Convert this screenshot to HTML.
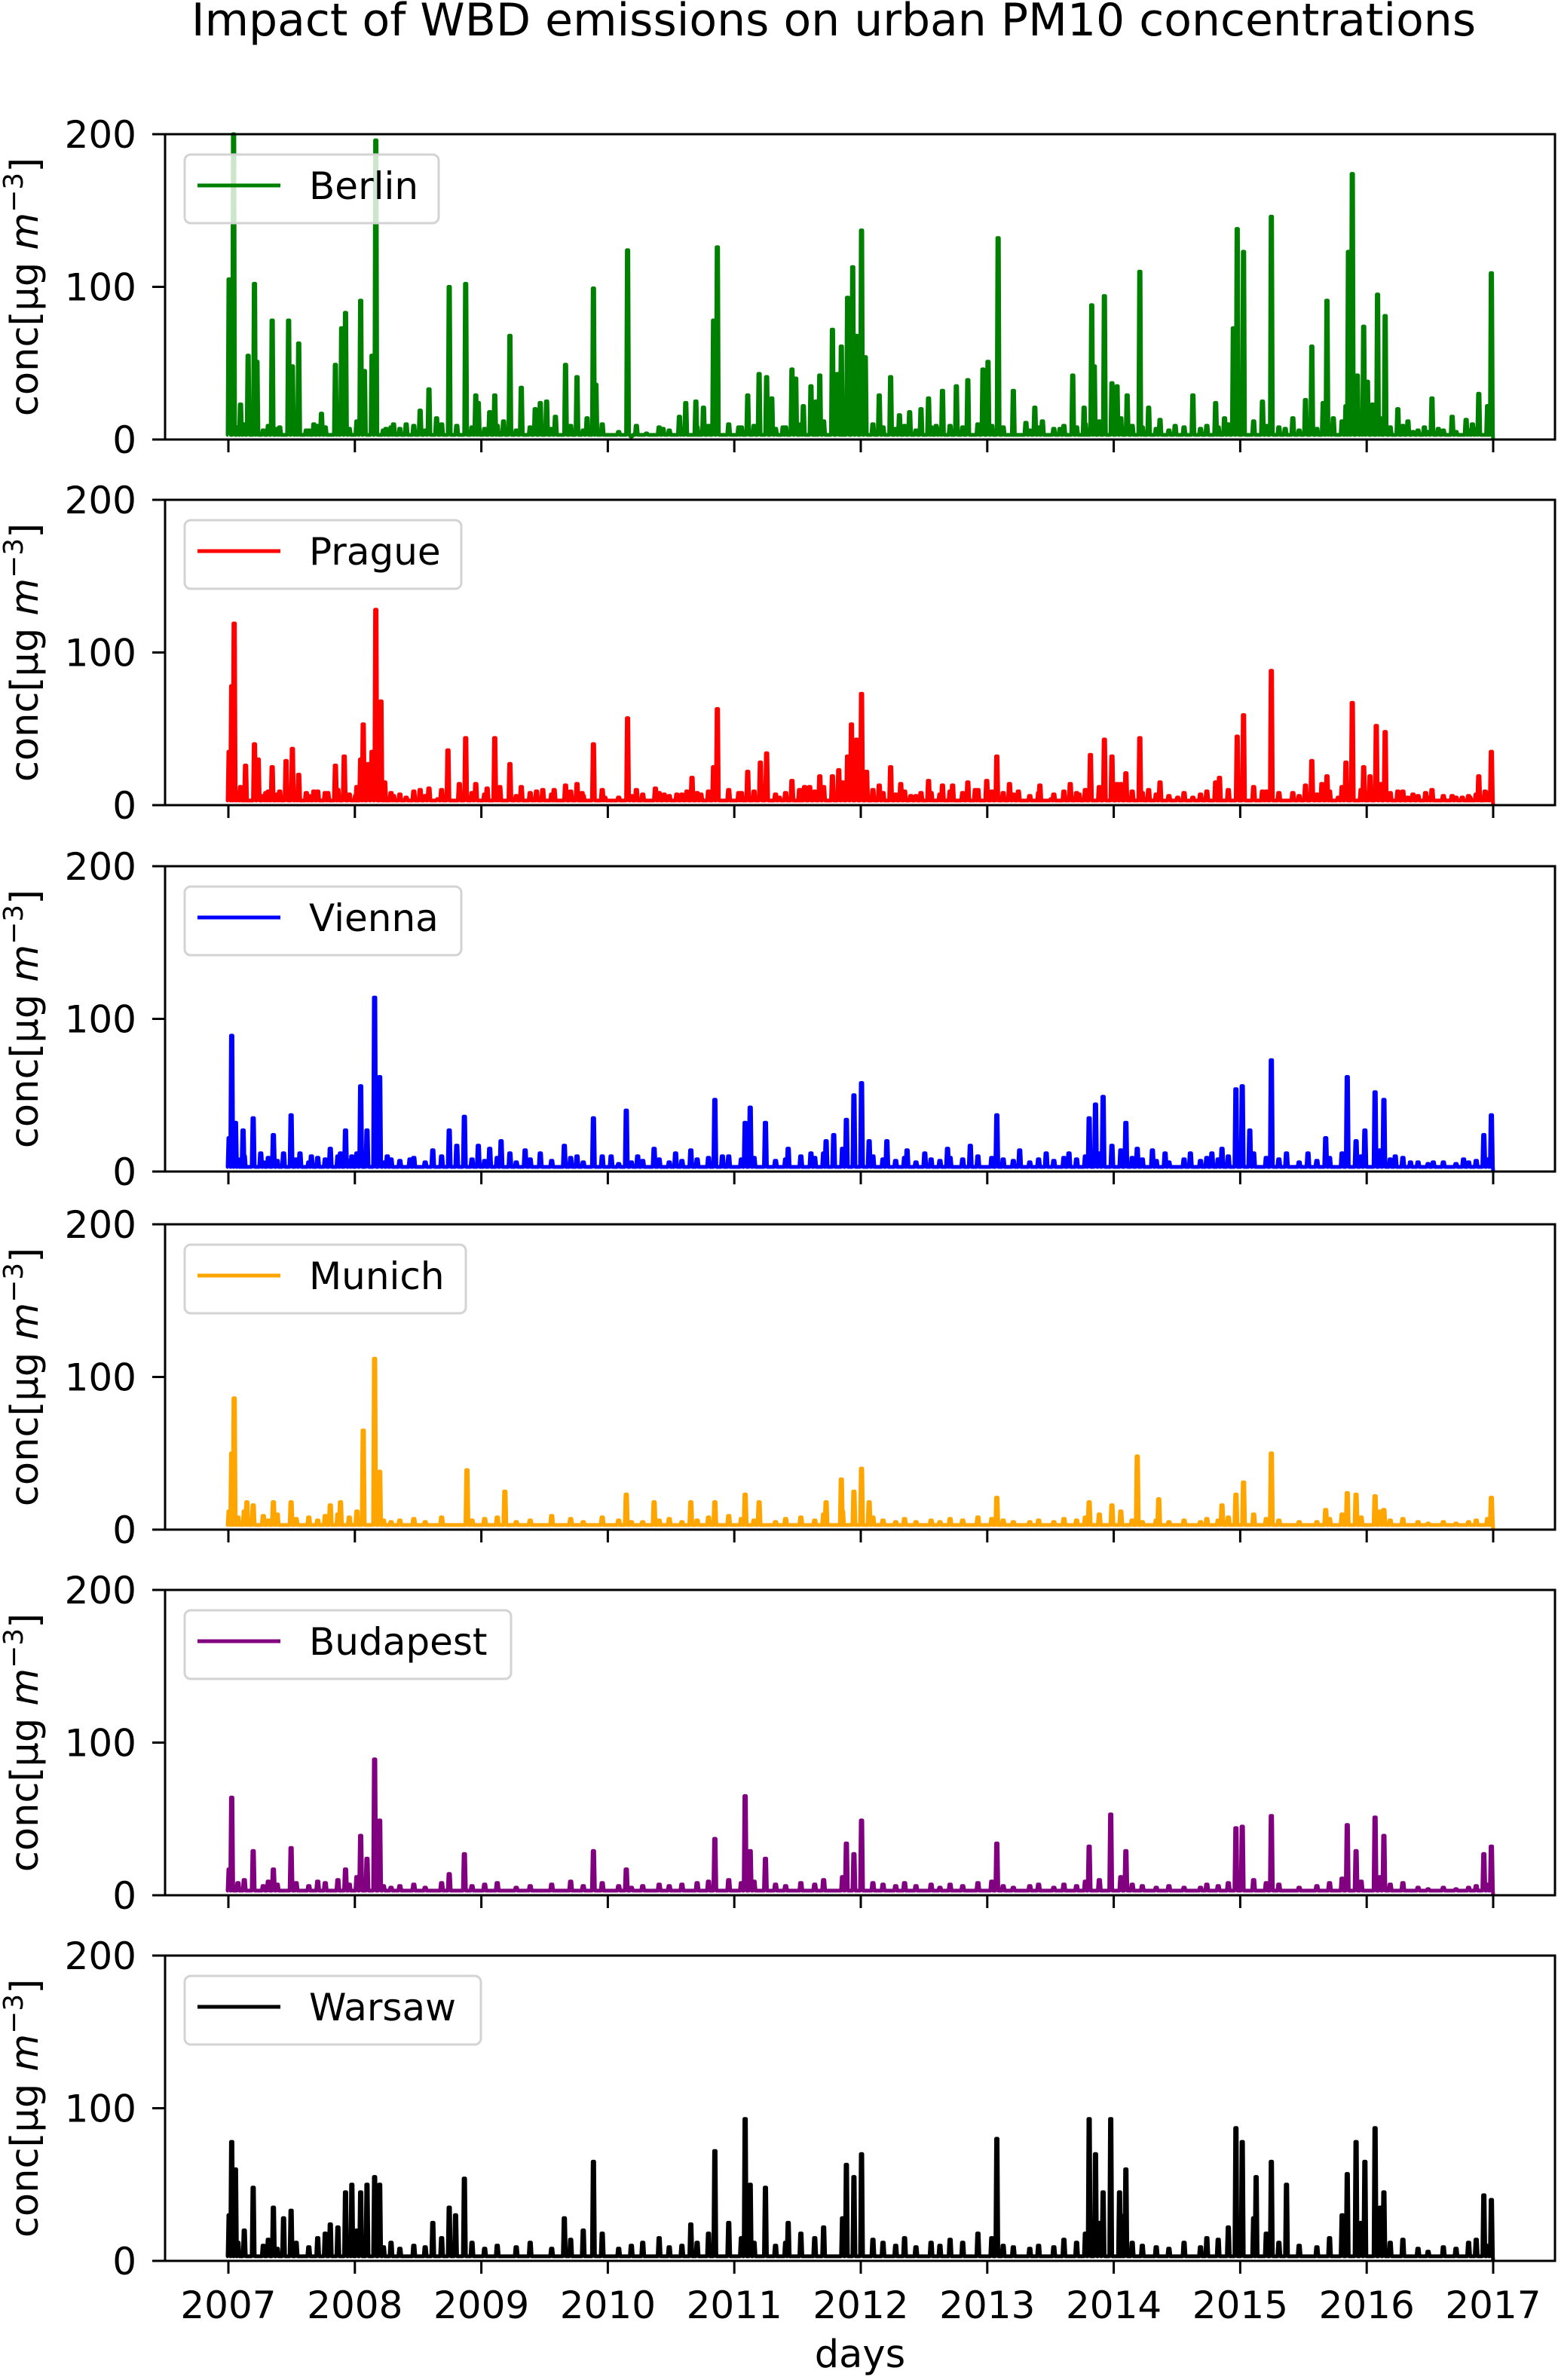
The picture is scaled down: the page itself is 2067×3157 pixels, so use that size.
<!DOCTYPE html>
<html><head><meta charset="utf-8"><style>
html,body{margin:0;padding:0;background:#fff}
svg{display:block}
text{font-family:"DejaVu Sans","Liberation Sans",sans-serif;fill:#000}
</style></head><body>
<svg id="chart" width="2067" height="3157" viewBox="0 0 2067 3157" xmlns="http://www.w3.org/2000/svg">
<text x="1106" y="47" font-size="60" text-anchor="middle">Impact of WBD emissions on urban PM10 concentrations</text>
<g id="panels"></g>
<text x="1141" y="3140" font-size="51" text-anchor="middle">days</text>
</svg>
<script>
// data (t = years since 2007-01-01, v = µg m-3)
const yearTicks = [2007,2008,2009,2010,2011,2012,2013,2014,2015,2016,2017];
const yTicks = [0,100,200];
const cities = ["Berlin","Prague","Vienna","Munich","Budapest","Warsaw"];
const colors = ["green","red","blue","orange","purple","black"];
const berlinT = [0,0.035,0.09,0.15,0.2,0.22,0.34,0.4,0.47,0.5,0.55,0.61,0.67,0.73,0.84,0.89,0.92,1.04,1.07,1.13,1.16,1.24,1.3,1.4,1.51,1.58,1.64,1.74,1.8,1.87,1.95,1.97,2.06,2.1,2.17,2.22,2.31,2.42,2.46,2.51,2.58,2.66,2.75,2.83,2.88,2.9,3.15,3.22,3.3,3.43,3.56,3.61,3.69,3.75,3.83,3.86,4.03,4.1,4.19,4.25,4.29,4.38,4.45,4.48,4.54,4.6,4.64,4.67,4.77,4.81,4.84,4.89,4.93,4.96,5,5.03,5.14,5.23,5.3,5.38,5.47,5.53,5.59,5.64,5.75,5.84,5.96,6,6.08,6.2,6.3,6.37,6.43,6.57,6.67,6.76,6.82,6.84,6.92,6.98,7.02,7.1,7.2,7.27,7.36,7.48,7.62,7.8,7.87,7.94,7.97,8.02,8.17,8.24,8.35,8.41,8.51,8.56,8.65,8.68,8.73,8.83,8.85,8.88,8.92,8.97,9,9.04,9.08,9.14,9.24,9.32,9.36,9.45,9.51,9.56,9.67,9.78,9.83,9.88,9.95,9.98];
const berlinV = [105,200,23,55,102,51,78,8,78,48,63,6,10,17,49,73,83,91,45,55,196,7,10,10,19,33,14,100,9,102,29,24,18,29,12,68,34,20,24,25,15,49,41,14,99,36,124,9,4,7,15,24,25,21,78,126,8,29,43,41,27,8,46,40,22,35,25,42,72,43,61,93,113,68,137,54,29,41,16,18,20,27,9,32,35,39,46,51,132,32,11,21,12,7,42,21,88,48,94,37,35,29,110,21,13,9,29,24,14,73,138,123,25,146,7,14,26,61,24,91,14,22,123,174,42,74,38,23,95,81,20,12,5,8,27,7,15,13,10,30,22,109];
const pragueT = [0,0.02,0.04,0.09,0.13,0.2,0.23,0.29,0.34,0.4,0.45,0.5,0.55,0.61,0.67,0.78,0.84,0.91,1,1.04,1.06,1.1,1.13,1.16,1.2,1.23,1.3,1.4,1.51,1.58,1.65,1.73,1.82,1.87,1.95,2.04,2.1,2.14,2.22,2.31,2.43,2.48,2.57,2.66,2.75,2.79,2.88,2.97,3.15,3.22,3.37,3.44,3.54,3.62,3.66,3.73,3.83,3.86,4.03,4.1,4.2,4.25,4.35,4.45,4.51,4.55,4.59,4.67,4.77,4.82,4.89,4.92,4.96,5,5.04,5.14,5.23,5.31,5.39,5.47,5.53,5.64,5.72,5.84,5.9,5.99,6.07,6.17,6.24,6.41,6.5,6.65,6.72,6.81,6.92,6.98,7.02,7.09,7.2,7.27,7.36,7.5,7.62,7.8,7.83,7.97,8.02,8.17,8.24,8.41,8.51,8.56,8.64,8.68,8.77,8.83,8.88,8.97,9.02,9.07,9.14,9.24,9.32,9.36,9.46,9.51,9.58,9.67,9.75,9.81,9.88,9.93,9.98];
const pragueV = [35,78,119,12,26,40,30,8,25,9,29,37,20,8,9,8,26,32,6,30,53,27,35,128,68,15,6,5,10,11,4,36,14,44,14,11,44,12,27,12,9,10,10,13,14,8,40,5,57,10,11,7,7,9,18,7,25,63,8,22,28,34,5,16,10,12,12,19,19,23,32,53,43,73,22,13,25,14,6,8,16,13,13,15,10,16,32,14,9,13,4,14,7,33,43,32,14,21,44,10,15,5,5,15,18,45,59,9,88,8,13,29,14,19,5,28,67,25,19,52,48,9,5,7,8,10,3,6,5,5,19,9,35];
const viennaT = [0,0.02,0.05,0.11,0.19,0.25,0.35,0.43,0.49,0.56,0.65,0.8,0.88,0.92,0.97,1.04,1.09,1.15,1.19,1.25,1.43,1.61,1.74,1.8,1.86,1.97,2.06,2.15,2.22,2.34,2.46,2.65,2.75,2.88,3.02,3.14,3.23,3.36,3.53,3.65,3.84,3.9,4.08,4.12,4.24,4.42,4.6,4.72,4.78,4.88,4.94,5,5.06,5.2,5.36,5.5,5.68,5.86,6.07,6.25,6.46,6.64,6.8,6.85,6.91,6.98,7.09,7.18,7.3,7.4,7.6,7.77,7.85,7.96,8.01,8.07,8.24,8.36,8.53,8.67,8.84,8.91,8.98,9.06,9.13,9.22,9.34,9.52,9.76,9.92,9.98];
const viennaV = [22,89,32,27,35,12,24,12,37,12,10,15,12,27,10,56,27,114,62,10,8,14,27,17,36,17,15,20,12,14,12,17,10,35,10,40,10,15,12,14,47,10,32,42,32,15,12,20,24,34,50,58,20,20,14,12,15,17,37,14,12,12,35,44,49,17,32,15,14,12,12,12,15,54,56,27,73,12,12,22,62,20,27,52,47,10,6,6,8,24,37];
const munichT = [0,0.02,0.04,0.14,0.19,0.35,0.49,0.8,0.88,1.06,1.15,1.19,1.88,2.18,3.14,3.36,3.65,3.84,4.08,4.19,4.72,4.84,4.94,5,5.06,6.07,6.8,6.98,7.18,7.35,7.85,7.96,8.02,8.24,8.67,8.84,8.91,9.06,9.13,9.98];
const munichV = [12,50,86,18,16,18,18,16,18,65,112,38,39,25,23,18,18,18,23,18,18,33,25,40,18,21,18,16,48,20,16,23,31,50,13,24,23,22,13,21];
const budapestT = [0,0.02,0.19,0.35,0.49,0.92,1.04,1.09,1.15,1.19,1.74,1.86,2.88,3.14,3.84,4.08,4.12,4.24,4.88,4.94,5,6.07,6.8,6.97,7.09,7.96,8.01,8.24,8.84,8.91,9.06,9.13,9.92,9.98];
const budapestV = [17,64,29,17,31,17,39,24,89,49,14,27,29,17,37,65,29,24,34,27,49,34,32,53,29,44,45,52,46,29,51,39,27,32];
const warsawT = [0,0.02,0.05,0.19,0.35,0.43,0.49,0.8,0.92,0.97,1.04,1.09,1.15,1.19,1.61,1.74,1.79,1.86,2.65,2.88,3.65,3.84,4.08,4.12,4.24,4.42,4.88,4.94,5,6.07,6.8,6.85,6.91,6.97,7.04,7.09,7.96,8.01,8.12,8.24,8.36,8.84,8.91,8.98,9.06,9.13,9.92,9.98];
const warsawV = [30,78,60,48,35,28,33,24,45,50,45,50,55,50,25,35,30,54,28,65,24,72,93,50,48,25,63,55,70,80,93,70,45,93,45,60,87,78,55,65,50,57,78,65,87,45,43,40];
// low-level background readings (small daily values)
const lowT = [0.07,0.12,0.27,0.31,0.38,0.53,0.63,0.7,0.76,0.86,0.95,1.01,1.22,1.28,1.35,1.46,1.55,1.68,1.92,2.02,2.12,2.27,2.38,2.55,2.7,2.8,2.95,3.08,3.18,3.27,3.4,3.48,3.58,3.7,3.79,3.95,4.05,4.15,4.32,4.4,4.52,4.63,4.7,4.85,5.09,5.17,5.27,5.34,5.43,5.55,5.62,5.7,5.8,5.92,6.03,6.12,6.2,6.33,6.4,6.52,6.6,6.7,6.77,6.88,7.05,7.14,7.22,7.33,7.43,7.55,7.68,7.73,7.82,7.9,8.1,8.2,8.3,8.46,8.6,8.7,8.8,8.95,9.1,9.18,9.28,9.4,9.48,9.6,9.7,9.8,9.86,9.95];
const viennaLowV = [8,10,6,9,7,8,6,9,8,10,7,12,6,8,7,9,6,10,8,7,9,6,8,7,9,6,10,5,6,7,8,6,7,8,9,10,8,9,7,8,10,9,12,15,10,8,7,9,6,8,7,9,8,10,9,8,7,6,8,7,9,8,10,12,14,9,8,7,6,8,7,9,8,10,12,9,8,6,7,9,12,10,14,8,9,6,5,6,5,6,7,8];
const munichLowV = [8,12,9,6,10,7,8,6,9,10,8,12,6,5,6,7,5,8,6,7,8,5,6,9,7,5,8,6,5,5,6,7,5,6,8,9,7,6,5,7,8,6,10,12,8,6,5,7,5,6,5,7,6,8,7,6,5,5,6,5,7,6,8,10,12,6,5,6,5,6,5,7,6,8,10,7,6,5,5,7,10,8,12,6,7,5,4,5,4,5,6,7];
const budapestLowV = [8,10,6,9,7,8,6,9,8,10,7,12,6,5,6,7,5,8,6,7,8,5,6,7,9,6,8,6,5,6,7,6,7,8,9,10,8,9,7,6,8,7,10,12,8,7,6,8,6,7,5,7,6,8,9,6,5,6,7,5,7,6,9,10,12,7,6,5,6,5,5,7,6,8,10,8,7,5,6,8,11,9,12,7,8,5,4,5,4,5,6,7];
const warsawLowV = [12,20,10,14,8,12,9,15,18,22,14,20,9,12,8,10,9,15,12,8,10,9,12,8,14,20,18,8,10,12,15,9,10,12,18,25,15,12,10,12,18,15,22,28,14,12,10,15,9,12,10,14,12,18,15,10,9,8,10,9,14,12,18,25,30,12,10,9,8,12,9,15,14,22,28,18,12,10,9,15,30,25,35,12,14,8,6,9,8,12,14,10];
const berlinLowV = [8,10,6,9,7,8,6,9,8,10,7,12,6,8,7,9,6,10,8,7,9,6,8,7,9,6,10,5,2,3,8,6,7,8,9,10,8,9,7,8,10,9,12,15,10,8,7,9,6,8,7,9,8,10,9,8,7,6,8,7,9,8,10,12,14,9,8,7,6,8,7,9,8,10,12,9,8,6,7,9,12,10,14,8,9,6,5,6,5,6,7,8];
const pragueLowV = viennaLowV;

const seriesT = [berlinT,pragueT,viennaT,munichT,budapestT,warsawT];
const seriesV = [berlinV,pragueV,viennaV,munichV,budapestV,warsawV];
const seriesLowV = [berlinLowV,pragueLowV,viennaLowV,munichLowV,budapestLowV,warsawLowV];
const legendW = [337,367,367,373,433,393];

const NS = "http://www.w3.org/2000/svg";
const L = 219, R = 2063, H = 405;
const tops = [178,663,1149,1624,2109,2594];
const X0 = 303, X1 = 1981;
function xs(year){ return X0 + (year-2007)/10*(X1-X0); }
function ys(v, top){ return top + H - v/200*H; }
function el(tag, attrs, parent){
  const e = document.createElementNS(NS, tag);
  for (const k in attrs) e.setAttribute(k, attrs[k]);
  parent.appendChild(e); return e;
}
const root = document.getElementById("panels");
cities.forEach((city, i) => {
  const top = tops[i], bot = top + H;
  const g = el("g", {}, root);
  
  
  const pts = [];
  seriesT[i].forEach((t, k) => pts.push([t, seriesV[i][k]]));
  lowT.forEach((t, k) => pts.push([t, seriesLowV[i][k]]));
  pts.sort((a, b) => a[0] - b[0]);
  let d = "M" + xs(2007).toFixed(1) + " " + ys(3,top).toFixed(1);
  for (const [t, v] of pts) {
    const x = xs(2007 + t);
    d += " L" + (x-1).toFixed(1) + " " + ys(3,top).toFixed(1);
    d += " L" + x.toFixed(1) + " " + ys(v,top).toFixed(1);
    d += " L" + (x+2).toFixed(1) + " " + ys(v,top).toFixed(1);
    d += " L" + (x+3).toFixed(1) + " " + ys(3,top).toFixed(1);
  }
  d += " L" + xs(2017).toFixed(1) + " " + ys(0,top).toFixed(1);
  const p = el("path", {d: d, fill: "none", stroke: colors[i], "stroke-width": 5, "stroke-linejoin": "round"}, g);
  
  
  const fr = el("rect", {x: L, y: top, width: R-L, height: H, fill: "none", stroke: "#000", "stroke-width": 3}, g);
  
  
  yTicks.forEach(v => {
    const y = ys(v, top);
    const t = el("line", {x1: L-17, x2: L, y1: y, y2: y, stroke: "#000", "stroke-width": 3}, g);
    
    
    const lb = el("text", {x: L-38, y: y+18, "font-size": 50, "text-anchor": "end"}, g);
    lb.textContent = v;
    
    
  });
  yearTicks.forEach(yr => {
    const x = xs(yr);
    const t = el("line", {x1: x, x2: x, y1: bot, y2: bot+17, stroke: "#000", "stroke-width": 3}, g);
    
    
    if (i === cities.length-1) {
      const lb = el("text", {x: x, y: bot+76, "font-size": 50, "text-anchor": "middle"}, g);
      lb.textContent = yr;
      
      
    }
  });
  const yl = el("text", {transform: "translate(50," + (top+H/2) + ") rotate(-90)", "font-size": 51, "text-anchor": "middle"}, g);
  yl.innerHTML = 'conc[µg <tspan font-style="italic">m</tspan><tspan dy="-20" font-size="36">−3</tspan><tspan dy="20">]</tspan>';
  
  
  const lg = el("g", {}, g);
  
  
  el("rect", {x: 245, y: top+27, width: legendW[i], height: 91, rx: 8, fill: "rgba(255,255,255,0.8)", stroke: "#d3d3d3", "stroke-width": 3}, lg);
  const ll = el("line", {x1: 262, x2: 372, y1: top+68, y2: top+68, stroke: colors[i], "stroke-width": 5}, lg);
  
  
  const lt = el("text", {x: 410, y: top+86, "font-size": 50}, lg);
  lt.textContent = city;
  
  
});
</script>
</body></html>
